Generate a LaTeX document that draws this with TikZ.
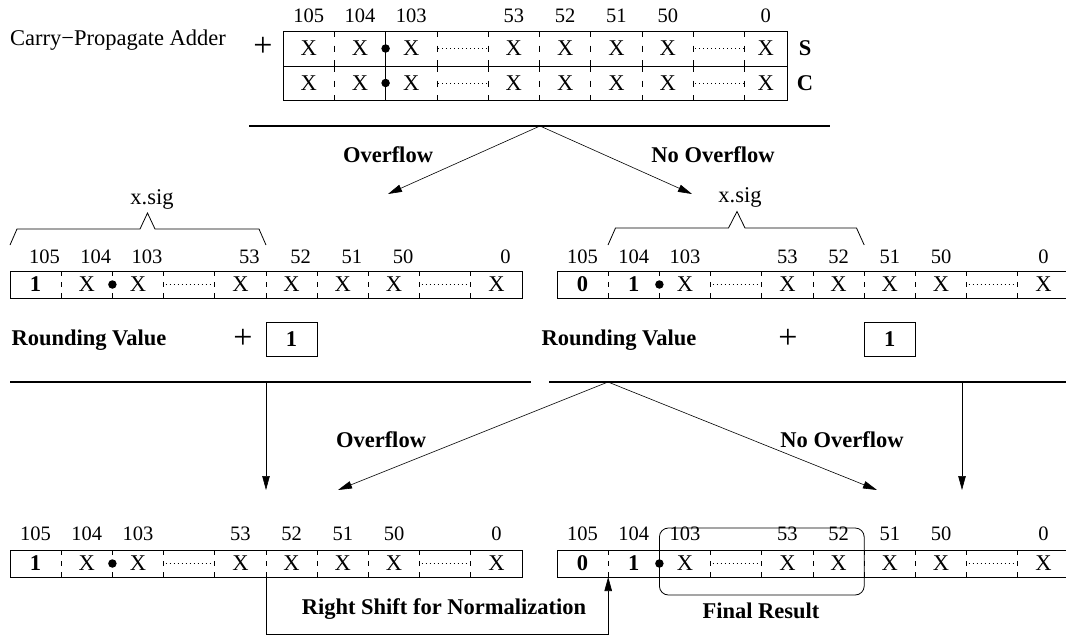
\documentclass[tikz,border=0pt]{standalone}
\usepackage{fontspec}
\setmainfont{Liberation Serif}
\usetikzlibrary{arrows.meta}
\begin{document}
\begin{tikzpicture}[x=1pt,y=-1pt,
    txt/.style={font=\fontsize{22.5}{26}\selectfont, inner sep=0pt},
    num/.style={font=\fontsize{20.5}{24}\selectfont, inner sep=0pt},
    gras/.style={font=\fontsize{22.5}{26}\selectfont\bfseries, inner sep=0pt},
    plus/.style={font=\fontsize{34}{36}\selectfont, inner sep=0pt},
    cadre/.style={line width=0.8pt},
    sepa/.style={line width=0.7pt, dash pattern=on 6pt off 8.5pt},
    sep/.style={line width=0.7pt, dash pattern=on 5pt off 6pt},
    pointille/.style={line width=0.9pt, dash pattern=on 1pt off 3pt},
    barre/.style={line width=1.8pt},
    fleche/.style={line width=0.6pt, -{Triangle[length=14pt,width=7.5pt]}},
    point/.style={circle, fill, inner sep=0pt, minimum size=8.5pt}]
  \useasboundingbox (0,0) rectangle (1066,638);

  % Additionneur : lignes S et C
  \node[txt] (cpa) at (118,40) {Carry−Propagate Adder};
  \node[plus] (plusa) at (263,47) {+};
  \draw[cadre] (283,31) rectangle (787,100);
  \draw[cadre] (283,66) -- (787,66);
  \draw[cadre] (385.6,31) -- (385.6,100);
  \foreach \x in {334.3,436.9,488.2,539.5,590.8,642.1,693.4,744.7}{
    \draw[sepa] (\x,31) -- (\x,66);
    \draw[sepa] (\x,66) -- (\x,100);
  }
  \foreach \n/\x in {105/308.65,104/359.95,103/411.25,53/513.85,52/565.15,51/616.45,50/667.75,0/765.85}{
    \node[num] (ha\n) at (\x,16) {\n};
    \node[txt] (sa\n) at (\x,48.5) {X};
    \node[txt] (ca\n) at (\x,83) {X};
  }
  \foreach \y in {48.5,83}{
    \draw[pointille] (438,\y) -- (487,\y);
    \draw[pointille] (695,\y) -- (744,\y);
  }
  \node[point] (pa) at (385.6,48.5) {};
  \node[point] (pb) at (385.6,83) {};
  \node[gras] (s) at (805,48.5) {S};
  \node[gras] (c) at (805,83) {C};

  % Somme, puis les deux cas
  \draw[barre] (249,126) -- (830,126);
  \coordinate (ba) at (540,126);
  \coordinate (ga) at (388,194);
  \coordinate (da) at (692,194);
  \draw[fleche] (ba) -- (ga);
  \draw[fleche] (ba) -- (da);
  \node[gras] (ovfa) at (388,155) {Overflow};
  \node[gras] (novfa) at (713,155) {No Overflow};

  % Cas overflow : registre et arrondi
  \node[txt] (siga) at (152,199) {x.sig};
  \draw[cadre] (10,245) -- (17,229) -- (140,229) -- (147.5,213) -- (155,229) -- (259,229) -- (266,245);
  \draw[cadre] (10,271) rectangle (522,298);
  \foreach \x in {61.2,112.4,163.6,214.8,266,317.2,368.4,419.6,470.8}
    \draw[sep] (\x,271) -- (\x,298);
  \foreach \n/\x in {105/35.6,104/86.8,103/138,53/240.4,52/291.6,51/342.8,50/394,0/496.4}
    \node[num] (hb\n) at (\x+9,257) {\n};
  \node[gras] (rb105) at (35.6,284.5) {1};
  \foreach \n/\x in {104/86.8,103/138,53/240.4,52/291.6,51/342.8,50/394,0/496.4}
    \node[txt] (rb\n) at (\x,284.5) {X};
  \draw[pointille] (165.6,284.5) -- (212.8,284.5);
  \draw[pointille] (421.6,284.5) -- (468.8,284.5);
  \node[point] (pc) at (112.4,284.5) {};
  \node[gras] (rva) at (89,340) {Rounding Value};
  \node[plus] (plusb) at (243,339) {+};
  \node[gras, draw, line width=0.8pt, minimum width=51.2pt, minimum height=34pt] (una) at (291.6,339) {1};
  \draw[barre] (10,382) -- (531,382);

  % Cas sans overflow : registre et arrondi
  \node[txt] (sigb) at (740,197) {x.sig};
  \draw[cadre] (608,245) -- (615.5,228) -- (728.5,228) -- (737,211.5) -- (745,228) -- (856.5,228) -- (864.2,245);
  \draw[cadre] (1066,271) -- (557,271) -- (557,298) -- (1066,298);
  \foreach \x in {608.2,659.4,710.6,761.8,813,864.2,915.4,966.6,1017.8}
    \draw[sep] (\x,271) -- (\x,298);
  \foreach \n/\x in {105/582.6,104/633.8,103/685,53/787.4,52/838.6,51/889.8,50/941,0/1043.4}
    \node[num] (hc\n) at (\x,257) {\n};
  \node[gras] (rc105) at (582.6,284.5) {0};
  \node[gras] (rc104) at (633.8,284.5) {1};
  \foreach \n/\x in {103/685,53/787.4,52/838.6,51/889.8,50/941,0/1043.4}
    \node[txt] (rc\n) at (\x,284.5) {X};
  \draw[pointille] (712.6,284.5) -- (759.8,284.5);
  \draw[pointille] (968.6,284.5) -- (1015.8,284.5);
  \node[point] (pd) at (659.4,284.5) {};
  \node[gras] (rvb) at (619,340) {Rounding Value};
  \node[plus] (plusc) at (788,339) {+};
  \node[gras, draw, line width=0.8pt, minimum width=51.2pt, minimum height=34pt] (unb) at (889.8,339) {1};
  \draw[barre] (549,382) -- (1066,382);

  % Branchement apres arrondi
  \coordinate (bb) at (608,382);
  \coordinate (hg) at (266,382);
  \coordinate (hd) at (962,382);
  \coordinate (gb) at (338,490);
  \coordinate (db) at (877,490);
  \coordinate (vg) at (266,490);
  \coordinate (vd) at (962,490);
  \draw[fleche] (hg) -- (vg);
  \draw[fleche] (hd) -- (vd);
  \draw[fleche] (bb) -- (gb);
  \draw[fleche] (bb) -- (db);
  \node[gras] (ovfb) at (381,440) {Overflow};
  \node[gras] (novfb) at (842,440) {No Overflow};

  % Resultats finaux
  \draw[cadre] (10,550) rectangle (522,577);
  \foreach \x in {61.2,112.4,163.6,214.8,266,317.2,368.4,419.6,470.8}
    \draw[sep] (\x,550) -- (\x,577);
  \foreach \n/\x in {105/35.6,104/86.8,103/138,53/240.4,52/291.6,51/342.8,50/394,0/496.4}
    \node[num] (hd\n) at (\x,534) {\n};
  \node[gras] (rd105) at (35.6,563.5) {1};
  \foreach \n/\x in {104/86.8,103/138,53/240.4,52/291.6,51/342.8,50/394,0/496.4}
    \node[txt] (rd\n) at (\x,563.5) {X};
  \draw[pointille] (165.6,563.5) -- (212.8,563.5);
  \draw[pointille] (421.6,563.5) -- (468.8,563.5);
  \node[point] (pe) at (112.4,563.5) {};

  \draw[cadre] (1066,550) -- (557,550) -- (557,577) -- (1066,577);
  \foreach \x in {608.2,659.4,710.6,761.8,813,864.2,915.4,966.6,1017.8}
    \draw[sep] (\x,550) -- (\x,577);
  \foreach \n/\x in {105/582.6,104/633.8,103/685,53/787.4,52/838.6,51/889.8,50/941,0/1043.4}
    \node[num] (he\n) at (\x,534) {\n};
  \node[gras] (re105) at (582.6,563.5) {0};
  \node[gras] (re104) at (633.8,563.5) {1};
  \foreach \n/\x in {103/685,53/787.4,52/838.6,51/889.8,50/941,0/1043.4}
    \node[txt] (re\n) at (\x,563.5) {X};
  \draw[pointille] (712.6,563.5) -- (759.8,563.5);
  \draw[pointille] (968.6,563.5) -- (1015.8,563.5);
  \node[point] (pf) at (659.4,563.5) {};
  \draw[cadre, rounded corners=9pt] (659.4,528) rectangle (864.2,595);
  \node[gras] (final) at (761,611) {Final Result};

  % Decalage a droite
  \coordinate (sa) at (266,577);
  \coordinate (sb) at (266,634);
  \coordinate (sc) at (608.2,634);
  \coordinate (sd) at (608.2,577);
  \draw[fleche] (sa) -- (sb) -- (sc) -- (sd);
  \node[gras] (shift) at (444,609) {Right Shift for Normalization};
\end{tikzpicture}
\end{document}
